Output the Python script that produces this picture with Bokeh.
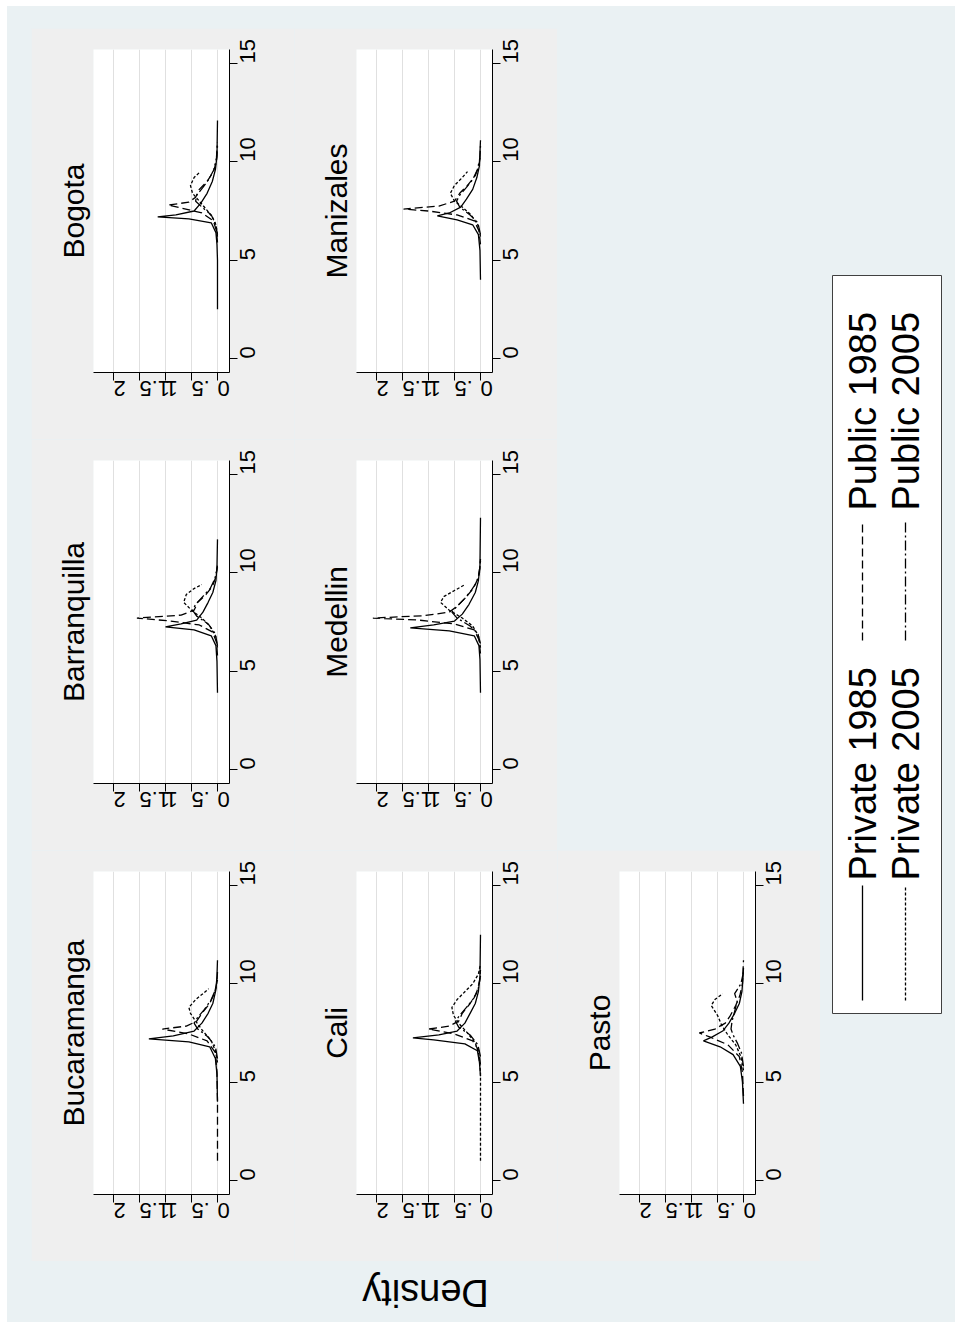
from math import pi
from bokeh.plotting import figure
from bokeh.layouts import column, row
from bokeh.models import Range1d, FixedTicker, Spacer
from bokeh.core.properties import value
from bokeh.embed import file_html
from bokeh.resources import INLINE

# ---------------- data ----------------
series_labels = ["Private 1985", "Private 2005", "Public 1985", "Public 2005"]
density_ticks = [0, 0.5, 1, 1.5, 2]
density_tick_labels = ["0", ".5", "1", "1.5", "2"]
value_ticks = [0, 5, 10, 15]
axis_title = "Density"

# (value, density) pairs per city and series
bog_priv85 = [(2.5, 0), (5.0, 0), (5.8, 0.01), (6.4, 0.03), (6.9, 0.12), (7.1, 0.55), (7.2, 1.15), (7.3, 0.8),
              (7.5, 0.45), (7.9, 0.32), (8.4, 0.2), (9.0, 0.1), (9.6, 0.04), (10.3, 0.01), (12.1, 0)]
bog_priv05 = [(6.3, 0), (6.8, 0.03), (7.2, 0.1), (7.6, 0.22), (8.0, 0.35), (8.4, 0.48), (8.8, 0.52), (9.2, 0.45), (9.5, 0.33)]
bog_pub85 = [(5.9, 0), (6.5, 0.02), (7.0, 0.08), (7.4, 0.3), (7.65, 0.7), (7.8, 0.95), (7.95, 0.55), (8.2, 0.42),
             (8.6, 0.35), (9.0, 0.2), (9.5, 0.08), (10.0, 0.02), (10.8, 0)]
bog_pub05 = [(6.2, 0), (6.8, 0.03), (7.3, 0.12), (7.7, 0.3), (8.0, 0.42), (8.3, 0.4), (8.7, 0.28), (9.1, 0.17),
             (9.6, 0.07), (10.2, 0.02), (11.0, 0)]

bar_priv85 = [(3.9, 0), (5.5, 0.01), (6.3, 0.03), (6.8, 0.12), (7.1, 0.45), (7.25, 1.0), (7.4, 0.7), (7.6, 0.4),
              (8.0, 0.28), (8.5, 0.18), (9.0, 0.09), (9.6, 0.03), (10.3, 0.01), (11.7, 0)]
bar_priv05 = [(6.2, 0), (6.8, 0.04), (7.3, 0.15), (7.7, 0.3), (8.1, 0.5), (8.5, 0.65), (8.9, 0.6), (9.2, 0.45), (9.4, 0.3)]
bar_pub85 = [(5.8, 0), (6.5, 0.02), (7.0, 0.1), (7.35, 0.35), (7.55, 0.9), (7.7, 1.55), (7.85, 0.7), (8.1, 0.45),
             (8.5, 0.38), (8.9, 0.22), (9.3, 0.1), (9.8, 0.03), (10.4, 0)]
bar_pub05 = [(6.3, 0), (6.9, 0.04), (7.4, 0.18), (7.8, 0.4), (8.1, 0.48), (8.4, 0.42), (8.8, 0.28), (9.2, 0.14),
             (9.7, 0.05), (10.3, 0)]

buc_priv85 = [(4.0, 0), (5.4, 0.01), (6.2, 0.04), (6.8, 0.15), (7.05, 0.55), (7.2, 1.32), (7.35, 0.85), (7.6, 0.45),
              (8.0, 0.3), (8.5, 0.18), (9.0, 0.09), (9.7, 0.03), (10.4, 0.01), (11.2, 0)]
buc_priv05 = [(6.0, 0), (6.6, 0.04), (7.1, 0.12), (7.6, 0.28), (8.1, 0.42), (8.5, 0.52), (8.8, 0.55), (9.2, 0.42),
              (9.5, 0.28), (9.75, 0.17)]
buc_pub85 = [(1.0, 0), (4.0, 0), (5.5, 0.01), (6.5, 0.04), (7.1, 0.2), (7.45, 0.55), (7.7, 1.06), (7.85, 0.6),
             (8.1, 0.4), (8.5, 0.3), (9.0, 0.15), (9.5, 0.06), (10.1, 0.01), (10.6, 0)]
buc_pub05 = [(6.2, 0), (6.8, 0.04), (7.3, 0.18), (7.7, 0.38), (8.0, 0.45), (8.3, 0.38), (8.7, 0.25), (9.2, 0.12),
             (9.7, 0.04), (10.2, 0)]

cal_priv85 = [(5.3, 0), (6.0, 0.02), (6.6, 0.06), (6.95, 0.3), (7.15, 0.9), (7.25, 1.3), (7.4, 0.8), (7.6, 0.45),
              (8.0, 0.3), (8.5, 0.2), (9.0, 0.1), (9.6, 0.04), (10.4, 0.01), (12.5, 0)]
cal_priv05 = [(1.0, 0), (5.5, 0), (6.4, 0.03), (7.0, 0.1), (7.5, 0.25), (8.0, 0.42), (8.4, 0.52), (8.8, 0.55),
              (9.2, 0.45), (9.6, 0.3), (10.0, 0.15), (10.5, 0.04), (11.0, 0)]
cal_pub85 = [(5.9, 0), (6.6, 0.03), (7.1, 0.15), (7.45, 0.5), (7.7, 1.0), (7.85, 0.6), (8.1, 0.42), (8.5, 0.35),
             (9.0, 0.2), (9.5, 0.08), (10.1, 0.02), (10.7, 0)]
cal_pub05 = [(6.3, 0), (6.9, 0.05), (7.4, 0.2), (7.8, 0.42), (8.1, 0.48), (8.4, 0.4), (8.8, 0.27), (9.3, 0.12),
             (9.8, 0.04), (10.4, 0)]

med_priv85 = [(3.9, 0), (5.6, 0.01), (6.3, 0.03), (6.8, 0.12), (7.05, 0.6), (7.2, 1.35), (7.35, 0.9), (7.55, 0.5),
              (7.9, 0.35), (8.4, 0.22), (9.0, 0.1), (9.6, 0.04), (10.4, 0.01), (12.8, 0)]
med_priv05 = [(6.2, 0), (6.8, 0.04), (7.3, 0.15), (7.7, 0.35), (8.1, 0.6), (8.5, 0.77), (8.8, 0.7), (9.1, 0.5), (9.4, 0.3)]
med_pub85 = [(5.9, 0), (6.6, 0.03), (7.1, 0.12), (7.4, 0.5), (7.6, 1.2), (7.7, 2.07), (7.82, 1.1), (8.0, 0.6),
             (8.3, 0.45), (8.7, 0.3), (9.2, 0.14), (9.7, 0.05), (10.3, 0.01), (10.7, 0)]
med_pub05 = [(6.4, 0), (6.9, 0.05), (7.3, 0.2), (7.7, 0.45), (8.0, 0.55), (8.3, 0.45), (8.7, 0.3), (9.1, 0.18),
             (9.5, 0.08), (10.0, 0.02), (10.6, 0)]

man_priv85 = [(4.0, 0), (5.5, 0.01), (6.3, 0.04), (6.8, 0.15), (7.05, 0.45), (7.25, 0.83), (7.4, 0.6), (7.7, 0.38),
              (8.1, 0.27), (8.6, 0.15), (9.2, 0.07), (9.8, 0.02), (10.5, 0.01), (11.1, 0)]
man_priv05 = [(6.2, 0), (6.8, 0.05), (7.3, 0.18), (7.7, 0.35), (8.0, 0.5), (8.4, 0.58), (8.8, 0.5), (9.2, 0.35), (9.5, 0.25)]
man_pub85 = [(5.8, 0), (6.5, 0.03), (7.0, 0.12), (7.3, 0.45), (7.5, 1.0), (7.6, 1.48), (7.75, 0.8), (8.0, 0.5),
             (8.4, 0.4), (8.8, 0.25), (9.3, 0.1), (9.8, 0.03), (10.4, 0)]
man_pub05 = [(6.3, 0), (6.9, 0.05), (7.3, 0.2), (7.7, 0.4), (8.0, 0.46), (8.3, 0.4), (8.7, 0.27), (9.1, 0.15),
             (9.6, 0.06), (10.2, 0.01), (10.8, 0)]

pas_priv85 = [(3.9, 0), (5.0, 0.02), (5.8, 0.06), (6.4, 0.2), (6.8, 0.45), (7.1, 0.77), (7.3, 0.6), (7.6, 0.4),
              (8.0, 0.28), (8.5, 0.17), (9.0, 0.08), (9.6, 0.03), (10.3, 0.01), (10.8, 0)]
pas_priv05 = [(5.6, 0), (6.3, 0.05), (6.9, 0.15), (7.4, 0.3), (7.9, 0.42), (8.4, 0.5), (8.9, 0.62), (9.2, 0.55), (9.5, 0.4)]
pas_pub85 = [(4.3, 0), (5.5, 0.02), (6.3, 0.08), (6.9, 0.3), (7.3, 0.65), (7.5, 0.85), (7.7, 0.55), (8.0, 0.35),
             (8.4, 0.25), (8.9, 0.15), (9.4, 0.07), (10.0, 0.02), (11.2, 0)]
pas_pub05 = [(5.8, 0), (6.5, 0.04), (7.0, 0.12), (7.4, 0.2), (7.7, 0.24), (8.1, 0.22), (8.6, 0.17), (9.1, 0.12),
             (9.5, 0.17), (10.0, 0.05), (10.6, 0)]

data = {
    "Bogota": [bog_priv85, bog_priv05, bog_pub85, bog_pub05],
    "Barranquilla": [bar_priv85, bar_priv05, bar_pub85, bar_pub05],
    "Bucaramanga": [buc_priv85, buc_priv05, buc_pub85, buc_pub05],
    "Cali": [cal_priv85, cal_priv05, cal_pub85, cal_pub05],
    "Medellin": [med_priv85, med_priv05, med_pub85, med_pub05],
    "Manizales": [man_priv85, man_priv05, man_pub85, man_pub05],
    "Pasto": [pas_priv85, pas_priv05, pas_pub85, pas_pub05],
}

# ---------------- style ----------------
BLUE = "#eaf1f3"
GRAY = "#efefef"
FONT = "Liberation Sans"
dashes = {"Private 1985": "solid", "Private 2005": "3 2", "Public 1985": "8 4", "Public 2005": "10 3 2 3"}

CELL_W, CELL_H = 263, 411


def make_panel(name):
    p = figure(width=CELL_W, height=CELL_H,
               x_range=Range1d(2.385, -0.231), y_range=Range1d(-0.71, 15.71),
               title=name, title_location="left",
               x_axis_location="below", y_axis_location="right",
               toolbar_location=None, tools="", output_backend="svg",
               min_border_left=62, min_border_right=65, min_border_top=21, min_border_bottom=67)
    p.background_fill_color = "white"
    p.border_fill_color = GRAY
    p.outline_line_color = None
    p.title.text_font = FONT
    p.title.text_font_size = "30px"
    p.title.text_font_style = "normal"
    p.title.text_color = "black"
    p.title.align = "center"
    p.title.standoff = 7

    xa = p.xaxis[0]
    xa.ticker = FixedTicker(ticks=density_ticks)
    xa.major_label_overrides = {t: l for t, l in zip(density_ticks, density_tick_labels)}
    xa.major_label_orientation = pi
    xa.major_label_standoff = 8
    ya = p.yaxis[0]
    ya.ticker = FixedTicker(ticks=value_ticks)
    ya.major_label_orientation = pi / 2
    ya.major_label_standoff = 10
    for ax in (xa, ya):
        ax.axis_line_color = "black"
        ax.axis_line_width = 1
        ax.major_tick_line_color = "black"
        ax.major_tick_out = 8
        ax.major_tick_in = 0
        ax.minor_tick_line_color = None
        ax.major_label_text_font = FONT
        ax.major_label_text_font_size = "22px"
        ax.major_label_text_color = "black"

    p.xgrid.ticker = FixedTicker(ticks=density_ticks)
    p.xgrid.grid_line_color = "#e0e0e0"
    p.xgrid.grid_line_width = 1
    p.ygrid.grid_line_color = None

    for label, pts in zip(series_labels, data[name]):
        vals = [a for a, b in pts]
        dens = [b for a, b in pts]
        p.line(x=dens, y=vals, line_color="black", line_width=1.3, line_dash=dashes[label])
    return p


panels = {name: make_panel(name) for name in data}

# legend box
leg = figure(width=113, height=742, x_range=Range1d(0, 109), y_range=Range1d(0, 738),
             x_axis_location=None, y_axis_location=None,
             toolbar_location=None, tools="", output_backend="svg", min_border=2)
leg.background_fill_color = "white"
leg.border_fill_color = BLUE
leg.outline_line_color = "#404040"
leg.outline_line_width = 1
leg.grid.visible = False
leg_pos = {  # column x, line start, line end, text start
    "Private 1985": (30, 13, 128, 133),
    "Private 2005": (73, 13, 128, 133),
    "Public 1985": (30, 373, 493, 503),
    "Public 2005": (73, 373, 493, 503),
}
for label in series_labels:
    cx, y0, y1, ty = leg_pos[label]
    leg.line(x=[cx, cx], y=[y0, y1], line_color="black", line_width=1.3, line_dash=dashes[label])
    leg.text(x=[cx], y=[ty], text=[label], angle=pi / 2, text_align="left", text_baseline="middle",
             text_font=value(FONT), text_font_size="38px", text_color="black")

# bottom strip with the (upside-down) axis title
strip = figure(width=948, height=61, x_range=Range1d(0, 948), y_range=Range1d(0, 61),
               x_axis_location=None, y_axis_location=None,
               toolbar_location=None, tools="", output_backend="svg", min_border=0)
strip.background_fill_color = BLUE
strip.border_fill_color = BLUE
strip.outline_line_color = None
strip.grid.visible = False
strip.text(x=[418], y=[30], text=[axis_title], angle=pi, text_align="center", text_baseline="middle",
           text_font=value(FONT), text_font_size="38px", text_color="black")

grid = column(
    row(panels["Bogota"], panels["Manizales"], Spacer(width=CELL_W, height=CELL_H)),
    row(panels["Barranquilla"], panels["Medellin"], Spacer(width=CELL_W, height=CELL_H)),
    row(panels["Bucaramanga"], panels["Cali"], panels["Pasto"]),
)
middle = row(Spacer(width=24, height=3 * CELL_H), grid, Spacer(width=10, height=3 * CELL_H),
             column(Spacer(width=113, height=245), leg))
inner = column(Spacer(width=948, height=22), middle, strip, styles={"background-color": BLUE})
root = column(Spacer(width=955, height=6), row(Spacer(width=7, height=1316), inner))

open("out.html", "w").write(file_html(root, INLINE))
